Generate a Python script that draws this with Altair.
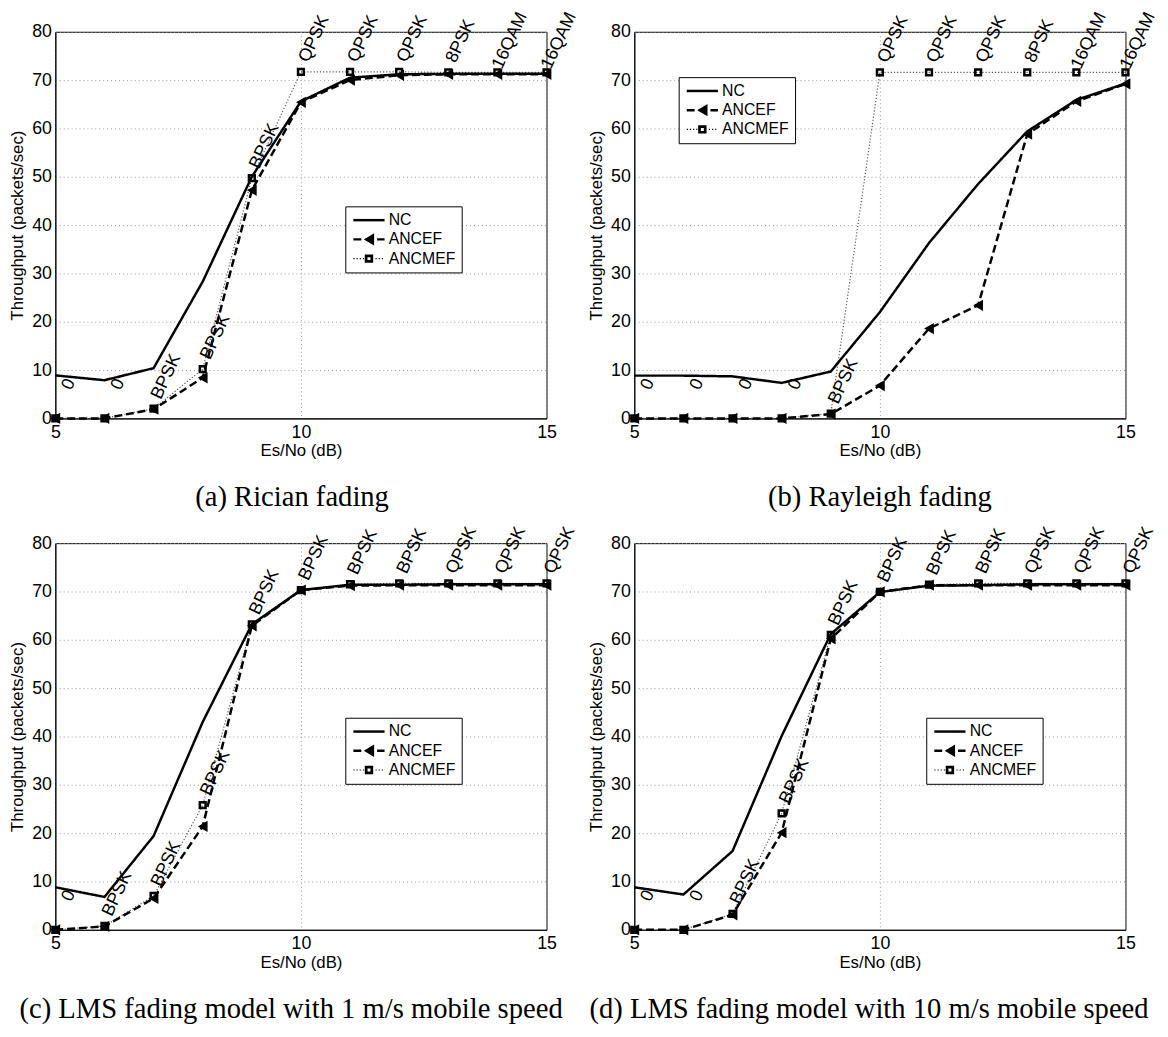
import altair as alt
import pandas as pd

SNR = [5, 6, 7, 8, 9, 10, 11, 12, 13, 14, 15]
SERIES = ["NC", "ANCEF", "ANCMEF"]

# (a) Rician fading
A_NC = [8.9, 7.9, 10.4, 28.3, 50.0, 65.6, 70.5, 71.2, 71.3, 71.3, 71.3]
A_ANCEF = [0.0, 0.0, 1.9, 8.4, 47.2, 65.4, 70.0, 71.0, 71.2, 71.2, 71.2]
A_ANCMEF = [0.0, 0.0, 2.0, 10.2, 49.7, 71.7, 71.7, 71.7, 71.6, 71.6, 71.6]
A_LABELS = ["0", "0", "BPSK", "BPSK", "BPSK", "QPSK", "QPSK", "QPSK", "8PSK", "16QAM", "16QAM"]

# (b) Rayleigh fading
B_NC = [8.85, 8.85, 8.7, 7.35, 9.7, 22.0, 36.3, 48.5, 59.4, 65.9, 69.3]
B_ANCEF = [0.0, 0.0, 0.0, 0.0, 0.9, 6.8, 18.6, 23.4, 58.8, 65.6, 69.2]
B_ANCMEF = [0.0, 0.0, 0.0, 0.0, 1.0, 71.6, 71.6, 71.6, 71.6, 71.6, 71.6]
B_LABELS = ["0", "0", "0", "0", "BPSK", "QPSK", "QPSK", "QPSK", "8PSK", "16QAM", "16QAM"]

# (c) LMS 1 m/s
C_NC = [8.8, 6.8, 19.4, 43.0, 63.2, 70.3, 71.4, 71.4, 71.5, 71.5, 71.5]
C_ANCEF = [0.0, 0.7, 6.5, 21.4, 62.9, 70.3, 71.2, 71.3, 71.3, 71.3, 71.3]
C_ANCMEF = [0.0, 0.8, 7.0, 25.8, 63.2, 70.3, 71.5, 71.7, 71.7, 71.7, 71.7]
C_LABELS = ["0", "BPSK", "BPSK", "BPSK", "BPSK", "BPSK", "BPSK", "BPSK", "QPSK", "QPSK", "QPSK"]

# (d) LMS 10 m/s
D_NC = [8.8, 7.3, 16.3, 40.1, 61.2, 69.9, 71.2, 71.3, 71.5, 71.5, 71.5]
D_ANCEF = [0.0, 0.0, 3.1, 20.1, 60.2, 69.9, 71.3, 71.3, 71.3, 71.3, 71.3]
D_ANCMEF = [0.0, 0.0, 3.3, 24.1, 61.0, 69.9, 71.4, 71.7, 71.7, 71.7, 71.7]
D_LABELS = ["0", "0", "BPSK", "BPSK", "BPSK", "BPSK", "BPSK", "BPSK", "QPSK", "QPSK", "QPSK"]

CAPTIONS = [
    "(a) Rician fading",
    "(b) Rayleigh fading",
    "(c) LMS fading model with 1 m/s mobile speed",
    "(d) LMS fading model with 10 m/s mobile speed",
]

FONT = "Liberation Sans"
SERIF = "Liberation Serif"

DASHES = [[1, 0], [8, 4], [1.2, 2]]
WIDTHS = [2.5, 2.5, 1.2]

SQ_PATH = "M-1,-1L1,-1L1,1L-1,1Z M-0.4,-0.4L-0.4,0.4L0.4,0.4L0.4,-0.4Z"


# ---- legend glyphs (filled paths, symbol unit = 5 px) ----
def _rect(x0, x1, t):
    return f"M{x0:.2f},{-t:.2f}L{x1:.2f},{-t:.2f}L{x1:.2f},{t:.2f}L{x0:.2f},{t:.2f}Z"


def _pattern(on, off, t, skip=0.0):
    parts, x, end = [], -3.16, 3.16
    while x < end:
        x1 = min(x + on, end)
        if not (skip and x1 > -skip and x < skip):
            parts.append(_rect(x, x1, t))
        x += on + off
    return "".join(parts)


LEG_NC = _rect(-3.16, 3.16, 0.25)
LEG_TRI = _pattern(1.6, 0.8, 0.25) + "M-1.04,0L1.04,-1.25L1.04,1.25Z"
LEG_SQ = (_pattern(0.24, 0.4, 0.12, skip=0.85)
          + "M-0.85,-0.85L0.85,-0.85L0.85,0.85L-0.85,0.85Z"
          + "M-0.3,-0.3L-0.3,0.3L0.3,0.3L0.3,-0.3Z")
LEG_SHAPES = [LEG_NC, LEG_TRI, LEG_SQ]

W, H = 498, 392


def panel(nc, ancef, ancmef, labels, caption, lx, ly, cdx):
    rows = []
    for name, vals in [("NC", nc), ("ANCEF", ancef), ("ANCMEF", ancmef)]:
        for s, v in zip(SNR, vals):
            rows.append({"snr": s, "value": v, "series": name})
    df = pd.DataFrame(rows)
    lab = pd.DataFrame({
        "snr": SNR,
        "value": ancmef,
        "label": labels,
        "pad": [5 - len(t) for t in labels],
    })

    x = alt.X("snr:Q", scale=alt.Scale(domain=[5, 15], nice=False, zero=False),
              axis=alt.Axis(values=[5, 10, 15], title="Es/No (dB)", format="d"))
    y = alt.Y("value:Q", scale=alt.Scale(domain=[0, 80], nice=False),
              axis=alt.Axis(values=list(range(0, 81, 10)), title="Throughput (packets/sec)"))

    leg = alt.Legend(
        title=None, orient="none", legendX=lx, legendY=ly,
        strokeColor="black", fillColor="white", padding=6, cornerRadius=0,
        labelFont=FONT, labelFontSize=16, labelColor="black", labelOffset=12,
        symbolSize=100, symbolOffset=10, rowPadding=3.5,
        symbolOpacity=1, symbolFillColor="black", symbolStrokeColor="black",
        symbolStrokeWidth=0,
    )

    base = alt.Chart(df)

    def series_line(name, dash, width, color):
        return base.transform_filter(alt.datum.series == name).mark_line(
            strokeDash=dash, strokeWidth=width, color=color
        ).encode(x=x, y=y)

    l_mef = series_line("ANCMEF", DASHES[2], WIDTHS[2], "#555555")
    l_ef = series_line("ANCEF", DASHES[1], WIDTHS[1], "black")
    l_nc = series_line("NC", DASHES[0], WIDTHS[0], "black")

    squares = base.transform_filter(alt.datum.series == "ANCMEF").mark_point(
        shape=SQ_PATH, filled=True, size=70, color="black", opacity=1
    ).encode(x=x, y=y)
    triangles = base.transform_filter(alt.datum.series == "ANCEF").mark_point(
        shape="triangle-left", filled=True, size=130, color="black", opacity=1
    ).encode(x=x, y=y)

    legend_layer = base.mark_point(filled=True, color="black", opacity=0).encode(
        x=x, y=y,
        shape=alt.Shape("series:N", scale=alt.Scale(domain=SERIES, range=LEG_SHAPES), legend=leg),
    )

    text_layers = []
    for k in sorted(set(lab["pad"])):
        text_layers.append(
            alt.Chart(lab).transform_filter(alt.datum.pad == int(k)).mark_text(
                angle=295, align="left", baseline="alphabetic", dx=4 + 7 * int(k), dy=3,
                font=FONT, fontSize=18, color="black"
            ).encode(x=x, y=y, text="label:N")
        )

    return alt.layer(legend_layer, l_mef, l_ef, l_nc, triangles, squares, *text_layers).properties(
        width=W, height=H,
        title=alt.TitleParams(caption, orient="bottom", frame="group", anchor="middle",
                              font=SERIF, fontSize=29, fontWeight="normal", color="black",
                              offset=25, dx=cdx),
    )


pa = panel(A_NC, A_ANCEF, A_ANCMEF, A_LABELS, CAPTIONS[0], 294, 177, -9)
pb = panel(B_NC, B_ANCEF, B_ANCMEF, B_LABELS, CAPTIONS[1], 45, 46, 0)
pc = panel(C_NC, C_ANCEF, C_ANCMEF, C_LABELS, CAPTIONS[2], 294, 177, -10)
pd_ = panel(D_NC, D_ANCEF, D_ANCMEF, D_LABELS, CAPTIONS[3], 296, 177, -11)

indep = dict(shape="independent")

chart = alt.concat(
    pa, pb, pc, pd_, columns=2, spacing={"row": 126.5, "column": 89}, bounds="flush"
).resolve_scale(**indep).resolve_legend(**indep).properties(
    padding={"left": 0, "top": -6, "right": 0, "bottom": 0}
).configure_axis(
    labelFont=FONT, labelFontSize=18, labelColor="black",
    titleFont=FONT, titleFontSize=17, titleFontWeight="normal", titleColor="black",
    domainColor="black", domainWidth=1, ticks=False,
    gridColor="#999999", gridDash=[1, 3], gridWidth=1,
    labelFlush=False, labelOverlap=False,
).configure_axisY(
    labelPadding=4, titlePadding=5,
).configure_axisX(
    labelPadding=5, titlePadding=2,
).configure_view(
    stroke="black", strokeWidth=1
)

chart.save("out.html", embed_options={"renderer": "svg", "actions": False})
